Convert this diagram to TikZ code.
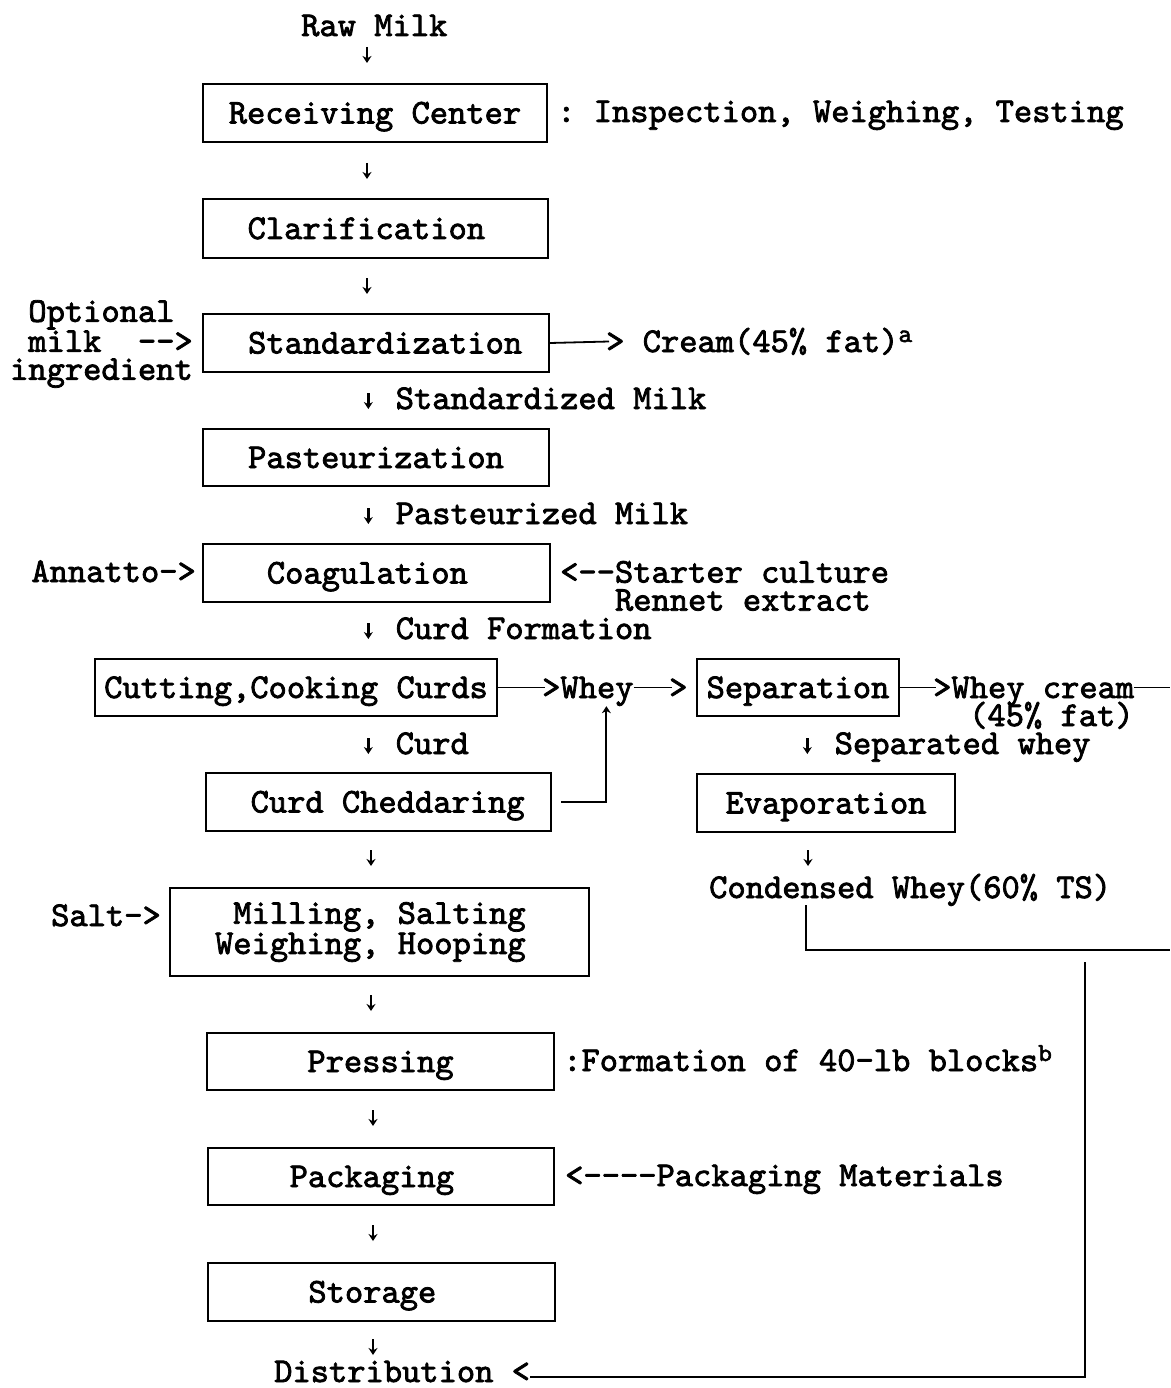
\documentclass[tikz,border=0pt]{standalone}
\usepackage{fontspec}
\setmonofont{lmmono10-regular.otf}[FakeBold=2.2]
\usetikzlibrary{arrows.meta}
% small down arrow set as one typewriter character cell
\newcommand\dnarrow{\makebox[0.525em]{\tikz[baseline=0pt]\draw[line width=2.4pt,-{Stealth[length=7pt,width=9pt]}] (0pt,16pt) -- (0pt,0pt);}}
% one blank character cell
\newcommand\chr{\hphantom{x}}
% a hyphen kept apart from its neighbours
\newcommand\hy{\mbox{-}}
% footnote mark
\newcommand\supmark[1]{\raisebox{10pt}{\fontsize{26pt}{26pt}\selectfont #1}}
\begin{document}
\begin{tikzpicture}[x=1pt,y=-1pt,
  every node/.style={font=\ttfamily\fontsize{34.8pt}{28pt}\selectfont\frenchspacing, inner sep=0pt},
  box/.style={draw, line width=2pt, text height=21pt, text depth=0pt},
  lbl/.style={text height=21pt, text depth=0pt, anchor=base west},
  ln/.style={line width=1.8pt},
  up/.style={-{Stealth[length=7pt,width=9pt]}}]
\useasboundingbox (0,0) rectangle (1170,1388);

% main line
\node[lbl] (raw) at (301,36) {Raw Milk};
\node[anchor=base] (a1) at (367,63) {\dnarrow};
\node[box, minimum width=344pt, minimum height=58pt] (rc) at (375,113) {Receiving Center};
\node[lbl] (insp) at (557,122) {: Inspection, Weighing, Testing};
\node[anchor=base] (a2) at (367,179) {\dnarrow};
\node[box, minimum width=345pt, minimum height=59pt] (clar) at (375.5,228.5) {Clarification\chr};
\node[anchor=base] (a3) at (367,294) {\dnarrow};
\node[box, minimum width=346pt, minimum height=58pt] (std) at (376,343) {\chr Standardization};
\node[anchor=east, align=right] (opt) at (193,344) {Optional\chr\\milk\chr\chr\hy\hy>\\ingredient};
\node[lbl] (cream) at (606,352) {> Cream(45\% fat)\supmark{a}};
\draw[ln] (std.east) -- ([xshift=3pt]cream.west);
\node[lbl] (a4) at (359,409) {\dnarrow\ Standardized Milk};
\node[box, minimum width=346pt, minimum height=57pt] (past) at (376,457.5) {Pasteurization};
\node[lbl] (a5) at (359,524) {\dnarrow\ Pasteurized Milk};
\node[box, minimum width=347pt, minimum height=58pt] (coag) at (376.5,573) {Coagulation\chr};
\node[anchor=base east] (ann) at (196,582) {Annatto\hy>};
\node[anchor=west, align=left] (start) at (560,586) {<\hy\hy Starter culture\\\chr\chr\chr Rennet extract};
\node[lbl] (a6) at (359,639) {\dnarrow\ Curd Formation};

% curd and whey
\node[box, minimum width=402pt, minimum height=57pt] (cut) at (296,687.5) {Cutting,Cooking Curds};
\node[lbl] (whey) at (542,698) {>Whey};
\node[lbl] (gt) at (669,698) {>};
\node[box, minimum width=202pt, minimum height=57pt] (sep) at (798,687.5) {Separation};
\node[lbl] (wcream) at (933,698) {>Whey cream};
\node[lbl] (wfat) at (969,726) {(45\% fat)};
\coordinate (wcOut) at (1170,687.5);
\draw[ln] (cut.east) -- ([xshift=3pt]whey.west);
\draw[ln] (whey.east) -- ([xshift=3pt]gt.west);
\draw[ln] (sep.east) -- ([xshift=3pt]wcream.west);
\draw[ln] (wcream.east) -- (wcOut);

\node[lbl] (a7) at (359,754) {\dnarrow\ Curd};
\node[lbl] (a13) at (798,754) {\dnarrow\ Separated whey};
\node[box, minimum width=345pt, minimum height=58pt] (ched) at (378.5,802) {\chr Curd Cheddaring};
\draw[ln, up] ([xshift=9pt]ched.east) -| ([xshift=18.5pt,yshift=-8pt]whey.south);
\node[box, minimum width=258pt, minimum height=58pt] (evap) at (826,803) {Evaporation};
\node[anchor=base] (a8) at (371,866) {\dnarrow};
\node[anchor=base] (a14) at (808,866) {\dnarrow};
\node[lbl] (cw) at (709,898) {Condensed Whey(60\% TS)};
\coordinate (cwBend) at (806,950);
\coordinate (cwOut) at (1170,950);
\draw[ln, shorten <=7pt] (cwBend |- cw.south) -- (cwBend) -- (cwOut);

% finishing
\node[draw, line width=2pt, minimum width=419pt, minimum height=88pt, align=right] (mill) at (379.5,932) {Milling, Salting\chr\\Weighing, Hooping\chr};
\node[anchor=base east] (salt) at (161,926) {Salt\hy>};
\node[anchor=base] (a9) at (371,1011) {\dnarrow};
\node[box, minimum width=347pt, minimum height=57pt] (press) at (380.5,1061.5) {Pressing};
\node[lbl] (form) at (563,1071) {:Formation of 40\hy lb blocks\supmark{b}};
\node[anchor=base] (a10) at (373,1126) {\dnarrow};
\node[box, minimum width=346pt, minimum height=57pt] (pack) at (381,1176.5) {Packaging\chr};
\node[lbl] (pmat) at (565,1186) {<\hy\hy\hy\hy Packaging Materials};
\node[anchor=base] (a11) at (373,1241) {\dnarrow};
\node[box, minimum width=347pt, minimum height=58pt] (stor) at (381.5,1292) {Storage\chr};
\node[anchor=base] (a12) at (373,1355) {\dnarrow};
\node[lbl] (dist) at (274,1382) {Distribution <};
\coordinate (dTop) at (1085,962);
\coordinate (dCorner) at (1085,1377);
\draw[ln] (dTop) -- (dCorner) -- (dCorner -| dist.east);
\end{tikzpicture}
\end{document}
